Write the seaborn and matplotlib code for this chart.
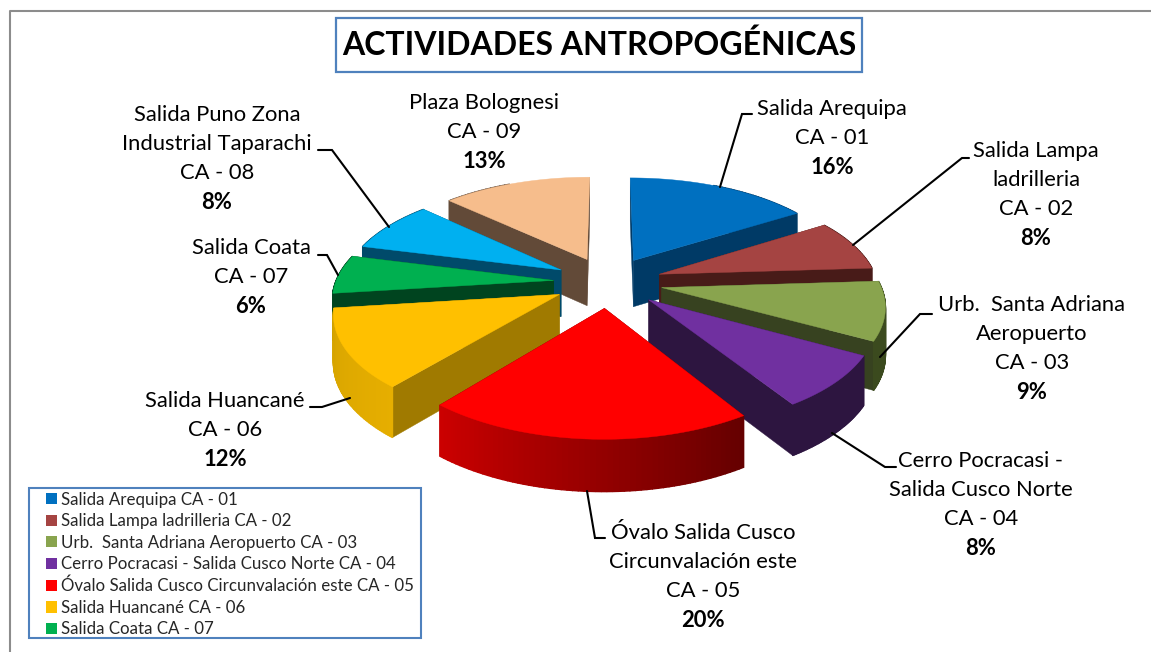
import numpy as np
import matplotlib
matplotlib.use("Agg")
import matplotlib.pyplot as plt
import seaborn as sns
from matplotlib.patches import Patch, Polygon, Rectangle

sites = ["Salida Arequipa", "Salida Lampa ladrilleria", "Urb.  Santa Adriana Aeropuerto",
         "Cerro Pocracasi - Salida Cusco Norte", "Óvalo Salida Cusco Circunvalación este",
         "Salida Huancané", "Salida Coata", "Salida Puno Zona Industrial Taparachi", "Plaza Bolognesi"]
codes = ["CA - 01", "CA - 02", "CA - 03", "CA - 04", "CA - 05", "CA - 06", "CA - 07", "CA - 08", "CA - 09"]
values = [16, 8, 9, 8, 20, 12, 6, 8, 13]
top_colors = ["#0070C0", "#A54442", "#89A44E", "#7030A0", "#FF0000", "#FFC000", "#00B050", "#00B0F0", "#F6BD8C"]
cut_colors = ["#003A66", "#481B18", "#374220", "#2D1540", "#680000", "#A07A00", "#00441F", "#004A6A", "#624A38"]
wall_right = ["#003A66", "#481B18", "#3B4A1E", "#2D1540", "#640000", "#E6AE00", "#00441F", "#004A6A", "#624A38"]
wall_left = ["#003A66", "#481B18", "#3B4A1E", "#2D1540", "#CC0000", "#D6A400", "#00441F", "#004A6A", "#624A38"]
label_lines = [["Salida Arequipa"], ["Salida Lampa", "ladrilleria"], ["Urb.  Santa Adriana", "Aeropuerto"],
               ["Cerro Pocracasi -", "Salida Cusco Norte"], ["Óvalo Salida Cusco", "Circunvalación este"],
               ["Salida Huancané"], ["Salida Coata"], ["Salida Puno Zona", "Industrial Taparachi"], ["Plaza Bolognesi"]]
label_x = [832, 1036, 1032, 981, 703, 225, 251, 217, 484]
label_y = [109, 151, 305, 461, 533, 401, 248, 115, 103]
leaders = [[(752, 114), (742, 114), (720, 187)], [(853, 245), (962, 158), (969, 158)],
           [(880, 357), (920, 314), (932, 314)], [(832, 433), (885, 467), (896, 467)],
           [(587, 491), (595, 538), (605, 538)], [(350, 398), (322, 407), (310, 407)],
           [(338, 275), (327, 255), (318, 255)], [(389, 227), (332, 150), (318, 150)]]

sns.set_style("white")
FONT = "Lato"
plt.rcParams["font.family"] = [FONT, "DejaVu Sans"]

fig = plt.figure(figsize=(11.51, 6.52), dpi=100)
ax = fig.add_axes([0, 0, 1, 1])
ax.set_xlim(0, 1151)
ax.set_ylim(652, 0)
ax.axis("off")

CX, CY, RX, RY, PY, PX, DEPTH, EXPL = 608, 282, 218, 101.5, 0.155, 0.15, 47, 0.25


def proj(x, y, z=0.0):
    fy = 1 / (1 + PY * y)
    fx = 1 / (1 + PX * y)
    return CX + RX * x * fx, CY - RY * y * fy + z * DEPTH * fy ** 0.5


edges = np.concatenate([[0], np.cumsum(values)]) / np.sum(values) * 2 * np.pi
mids = (edges[:-1] + edges[1:]) / 2
order = np.argsort(-np.cos(mids))
z = 10
for i in order:
    a0, a1 = edges[i], edges[i + 1]
    ox, oy = EXPL * np.sin(mids[i]), EXPL * np.cos(mids[i])
    th = np.linspace(a0, a1, 60)
    xs, ys = ox + np.sin(th), oy + np.cos(th)
    # cut faces
    for px, py in ((xs[0], ys[0]), (xs[-1], ys[-1])):
        quad = [proj(ox, oy), proj(px, py), proj(px, py, 1), proj(ox, oy, 1)]
        ax.add_patch(Polygon(quad, closed=True, fc=cut_colors[i], ec=cut_colors[i], lw=0.3, zorder=z))
    z += 1
    # outer wall with a gradient along the arc
    c0, c1 = np.array(matplotlib.colors.to_rgb(wall_right[i])), np.array(matplotlib.colors.to_rgb(wall_left[i]))
    for j in range(len(th) - 1):
        if ys[j] > oy + 0.9:
            continue
        t = (j + 0.5) / (len(th) - 1)
        col = c0 * (1 - t) + c1 * t
        quad = [proj(xs[j], ys[j]), proj(xs[j + 1], ys[j + 1]), proj(xs[j + 1], ys[j + 1], 1), proj(xs[j], ys[j], 1)]
        ax.add_patch(Polygon(quad, closed=True, fc=col, ec=col, lw=1.0, zorder=z))
    z += 1
    # top face
    pts = [proj(ox, oy)] + [proj(a, b) for a, b in zip(xs, ys)]
    ax.add_patch(Polygon(pts, closed=True, fc=top_colors[i], ec=top_colors[i], lw=0.3, zorder=z))
    z += 1

total = np.sum(values)
LINE = 29.2
FS = 15.8
for i in range(len(values)):
    y = label_y[i]
    for line in label_lines[i] + [codes[i]]:
        ax.text(label_x[i], y, line, ha="center", va="center", fontsize=FS, color="black", zorder=200)
        y += LINE
    ax.text(label_x[i], y, f"{round(values[i] / total * 100)}%", ha="center", va="center",
            fontsize=FS, fontweight="bold", color="black", zorder=200)

for pts in leaders:
    ax.plot(*zip(*pts), color="black", lw=1.5, zorder=150, solid_joinstyle="miter")

# chart area frame
ax.plot([10, 10, 1151], [652, 11, 11], color="#8C8C8C", lw=1.5, zorder=1)

# title
ax.add_patch(Rectangle((336, 18), 526, 54, fc="white", ec="#4F81BD", lw=1.6, zorder=190))
ax.text(599, 45, "ACTIVIDADES ANTROPOGÉNICAS", ha="center", va="center", fontsize=23,
        fontweight="bold", color="black", zorder=200)

# legend (only the first seven entries fit, as in the original)
ax.add_patch(Rectangle((29, 488), 392, 150, fc="white", ec="#4F81BD", lw=1.5, zorder=180))
handles = [Patch(fc=top_colors[i], ec="none", label=f"{sites[i]} {codes[i]}") for i in range(7)]
leg = ax.legend(handles=handles, loc="upper left", bbox_to_anchor=(46, 491.5), bbox_transform=ax.transData,
                fontsize=12.15, frameon=False, handlelength=0.65, handleheight=0.65, handletextpad=0.24,
                labelspacing=0.33, borderpad=0, borderaxespad=0)
leg.set_zorder(190)

fig.savefig("out.png", dpi=100, facecolor="white")
